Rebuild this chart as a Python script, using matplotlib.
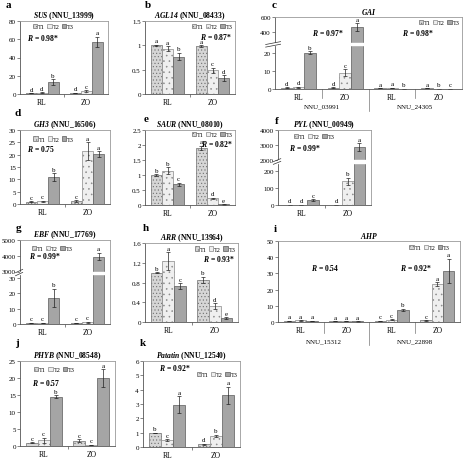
import numpy as np
import matplotlib
matplotlib.use("Agg")
import matplotlib.pyplot as plt
from matplotlib.ticker import FormatStrFormatter

plt.rcParams['font.family'] = 'Liberation Serif'
plt.rcParams['mathtext.fontset'] = 'custom'
plt.rcParams['mathtext.rm'] = 'Liberation Serif'
plt.rcParams['mathtext.it'] = 'Liberation Serif:italic'
plt.rcParams['mathtext.bf'] = 'Liberation Serif:bold'
plt.rcParams['mathtext.bfit'] = 'Liberation Serif:italic:bold'
plt.rcParams['hatch.linewidth'] = 0.4

# values ordered RL T1,T2,T3, ZO T1,T2,T3 (and repeated per gene for c, i)
treatments = ['T1', 'T2', 'T3']
groups = ['RL', 'ZO']

sus_mean = [0.8, 1.5, 13, 1.2, 3.5, 57]
sus_err = [0.2, 0.3, 3, 0.3, 1, 6]
sus_let = ['d', 'd', 'b', 'd', 'c', 'a']

agl_mean = [1.0, 0.93, 0.77, 0.98, 0.49, 0.33]
agl_err = [0.01, 0.05, 0.08, 0.02, 0.05, 0.06]
agl_let = ['a', 'a', 'b', 'a', 'c', 'd']

gai_mean = [0.8, 1.0, 20, 0.8, 9, 470, 0.5, 0.7, 0.1, 0.5, 0.2, 0.1]
gai_err = [0.1, 0.2, 0.8, 0.1, 2, 50, 0.1, 0.1, 0.05, 0.1, 0.05, 0.05]
gai_let = ['d', 'd', 'b', 'd', 'c', 'a', 'a', 'a', 'b', 'a', 'b', 'c']
gai_genes = ['NNU_03991', 'NNU_24305']

gh3_mean = [1.0, 1.2, 11, 1.2, 21.5, 20.3]
gh3_err = [0.1, 0.2, 1.5, 0.3, 3.5, 1.2]
gh3_let = ['c', 'c', 'b', 'c', 'a', 'a']

saur_mean = [1.0, 1.15, 0.7, 1.9, 0.22, 0.02]
saur_err = [0.02, 0.12, 0.05, 0.08, 0.02, 0.01]
saur_let = ['b', 'b', 'c', 'a', 'd', 'e']

pyl_mean = [0.8, 1.0, 30, 1.0, 140, 2900]
pyl_err = [0.1, 0.1, 4, 0.1, 20, 250]
pyl_let = ['d', 'd', 'c', 'd', 'b', 'a']

ebf_mean = [0.7, 0.8, 17, 0.8, 1.2, 3950]
ebf_err = [0.1, 0.1, 6, 0.1, 0.3, 250]
ebf_let = ['c', 'c', 'b', 'c', 'c', 'a']

arr_mean = [1.0, 1.23, 0.73, 0.85, 0.32, 0.08]
arr_err = [0.01, 0.18, 0.06, 0.07, 0.06, 0.02]
arr_let = ['b', 'a', 'c', 'b', 'd', 'e']

ahp_mean = [0.8, 1.0, 0.6, 0.5, 0.5, 0.4, 0.8, 1.5, 7.5, 1.0, 23.5, 31.5]
ahp_err = [0.1, 0.2, 0.1, 0.1, 0.1, 0.1, 0.1, 0.2, 0.8, 0.2, 1, 7.5]
ahp_let = ['a', 'a', 'a', 'a', 'a', 'a', 'c', 'c', 'b', 'c', 'a', 'a']
ahp_genes = ['NNU_15312', 'NNU_22898']

phyb_mean = [1.0, 1.7, 14.5, 1.6, 0.3, 20.0]
phyb_err = [0.1, 0.8, 0.4, 0.4, 0.1, 2.6]
phyb_let = ['c', 'c', 'b', 'c', 'c', 'a']

pat_mean = [1.0, 0.5, 2.95, 0.2, 0.77, 3.6]
pat_err = [0.01, 0.05, 0.6, 0.03, 0.08, 0.6]
pat_let = ['b', 'c', 'a', 'd', 'b', 'a']

W, H = 463, 460
fig = plt.figure(figsize=(W / 100, H / 100), dpi=100)

bar_w = 0.25
styles = [
    dict(facecolor='#d6d6d6', edgecolor='#6e6e6e', hatch='.....'),
    dict(facecolor='#efefef', edgecolor='#8a8a8a', hatch='...'),
    dict(facecolor='#a5a5a5', edgecolor='#5a5a5a'),
]


def add_box(l, t, r, b):
    return fig.add_axes([l / W, 1 - b / H, (r - l) / W, (b - t) / H])


def piecewise(ys, fs):
    ys = np.array(ys, float)
    fs = np.array(fs, float)

    def make(a, b):
        def f(v):
            v = np.asarray(v, float)
            out = np.interp(v, a, b)
            out = np.where(v < a[0], b[0] + (v - a[0]) * (b[1] - b[0]) / (a[1] - a[0]), out)
            out = np.where(v > a[-1], b[-1] + (v - a[-1]) * (b[-1] - b[-2]) / (a[-1] - a[-2]), out)
            return out
        return f
    return make(ys, fs), make(fs, ys)


def draw(ax, means, errs, lets):
    ncat = len(means) // 3
    x = np.arange(ncat)
    handles = []
    for t in range(3):
        vals = np.array(means[t::3])
        e = np.array(errs[t::3])
        pos = x + (t - 1) * bar_w
        h = ax.bar(pos, vals, bar_w, yerr=e, linewidth=0.5, zorder=2,
                   error_kw=dict(elinewidth=0.5, capsize=1.2, capthick=0.5, ecolor='#222222'),
                   **styles[t])
        handles.append(h)
        for p, v, ee, s in zip(pos, vals, e, lets[t::3]):
            ax.annotate(s, (p, v + ee), xytext=(0, 1), textcoords='offset points',
                        ha='center', va='bottom', fontsize=5)
    return handles


def style_axes(ax, ylim, yticks, xlabels):
    ax.set_xlim(-0.5, len(xlabels) - 0.5)
    ax.set_ylim(*ylim)
    ax.set_yticks(yticks)
    ax.yaxis.set_major_formatter(FormatStrFormatter('%g'))
    ax.set_xticks(range(len(xlabels)), xlabels)
    ax.tick_params(axis='y', labelsize=5, length=2, width=0.5, pad=1, color='#555555')
    ax.tick_params(axis='x', labelsize=5.5, length=0, pad=3)
    for s in ax.spines.values():
        s.set_linewidth(0.6)
        s.set_color('#9a9a9a')
    ax.spines['left'].set_color('#555555')
    ax.spines['bottom'].set_color('#555555')
    if len(xlabels) == 2:
        ax.set_xticks([0.5], minor=True)
        ax.tick_params(axis='x', which='minor', length=2, width=0.5, color='#555555')


def add_legend(ax, handles, loc, anchor):
    ax.legend(handles, treatments, ncol=3, loc=loc, bbox_to_anchor=anchor, fontsize=4.5,
              frameon=False, handlelength=0.7, handleheight=0.7, handletextpad=0.15,
              columnspacing=0.35, borderaxespad=0.2, borderpad=0.2)


def add_r(ax, x, y, val, ha='left'):
    ax.text(x, y, r'$\mathbfit{R}$ = ' + val, transform=ax.transAxes, ha=ha, va='center',
            fontsize=5.5, fontweight='bold')


def add_break(ax, b0, b1):
    ax.axhspan(b0, b1, color='white', zorder=3)
    fb = ax.transAxes.inverted().transform(ax.transData.transform((0, (b0 + b1) / 2)))[1]
    for dy in (-0.018, 0.018):
        ax.plot([-0.05, 0.03], [fb + dy - 0.02, fb + dy + 0.02], transform=ax.transAxes,
                color='#333333', lw=0.5, clip_on=False, zorder=4)


def gene_labels(ax, genes, long_frac, gene_y):
    tr = ax.get_xaxis_transform()
    for xs in (0.5, 2.5):
        ax.plot([xs, xs], [0, -0.13], transform=tr, color='#777777', lw=0.5, clip_on=False)
    ax.plot([1.5, 1.5], [0, long_frac], transform=tr, color='#777777', lw=0.5, clip_on=False)
    for xs, g in zip((0.5, 2.5), genes):
        ax.text(xs, gene_y, g, transform=tr, ha='center', va='center', fontsize=5)


def title(ax, gene, nnu=None):
    s = r'$\mathbfit{' + gene + '}$'
    if nnu:
        s += ' (' + nnu + ')'
    ax.set_title(s, fontsize=5.5, pad=2, fontweight='bold')


# a
ax = add_box(20, 22, 108, 95)
hs = draw(ax, sus_mean, sus_err, sus_let)
style_axes(ax, (0, 80), [0, 20, 40, 60, 80], groups)
title(ax, 'SUS', 'NNU_13999')
add_legend(ax, hs, 'upper left', (0.12, 1.0))
add_r(ax, 0.08, 0.78, '0.98*')

# b
ax = add_box(145, 22, 235, 95)
hs = draw(ax, agl_mean, agl_err, agl_let)
style_axes(ax, (0, 1.5), [0, 0.5, 1, 1.5], groups)
title(ax, 'AGL14', 'NNU_08433')
add_legend(ax, hs, 'upper right', (1.0, 1.0))
add_r(ax, 0.97, 0.80, '0.87*', ha='right')

# c
ax = add_box(275, 18, 462, 90)
fwd, inv = piecewise([0, 24, 260, 600], [0, 0.605, 0.635, 1.0])
ax.set_yscale('function', functions=(fwd, inv))
hs = draw(ax, gai_mean, gai_err, gai_let)
style_axes(ax, (0, 600), [0, 10, 20, 400, 600], groups * 2)
add_break(ax, 24, 260)
title(ax, 'GAI')
add_legend(ax, hs, 'upper right', (1.0, 1.0))
add_r(ax, 0.2, 0.79, '0.97*')
add_r(ax, 0.68, 0.79, '0.98*')
gene_labels(ax, gai_genes, -0.3, -0.24)

# d
ax = add_box(20, 131, 110, 205)
hs = draw(ax, gh3_mean, gh3_err, gh3_let)
style_axes(ax, (0, 30), [0, 5, 10, 15, 20, 25, 30], groups)
title(ax, 'GH3', 'NNU_16506')
add_legend(ax, hs, 'upper left', (0.12, 0.95))
add_r(ax, 0.08, 0.76, '0.75')

# e
ax = add_box(145, 131, 235, 206)
hs = draw(ax, saur_mean, saur_err, saur_let)
style_axes(ax, (0, 2.5), [0, 0.5, 1, 1.5, 2, 2.5], groups)
title(ax, 'SAUR', 'NNU_08010')
add_legend(ax, hs, 'upper right', (1.0, 1.01))
add_r(ax, 0.98, 0.83, '0.82*', ha='right')

# f
ax = add_box(278, 131, 371, 206)
fwd, inv = piecewise([0, 250, 2000, 4000], [0, 0.565, 0.595, 1.0])
ax.set_yscale('function', functions=(fwd, inv))
hs = draw(ax, pyl_mean, pyl_err, pyl_let)
style_axes(ax, (0, 4000), [0, 100, 200, 2000, 3000, 4000], groups)
add_break(ax, 250, 2000)
title(ax, 'PYL', 'NNU_00949')
add_legend(ax, hs, 'upper left', (0.14, 0.98))
add_r(ax, 0.12, 0.77, '0.99*')

# g
ax = add_box(20, 241, 110, 325)
fwd, inv = piecewise([0, 33, 3000, 5000], [0, 0.6, 0.625, 1.0])
ax.set_yscale('function', functions=(fwd, inv))
hs = draw(ax, ebf_mean, ebf_err, ebf_let)
style_axes(ax, (0, 5000), [0, 10, 20, 30, 3000, 4000, 5000], groups)
add_break(ax, 33, 3000)
title(ax, 'EBF', 'NNU_17769')
add_legend(ax, hs, 'upper left', (0.1, 0.96))
add_r(ax, 0.1, 0.82, '0.99*')

# h
ax = add_box(145, 244, 238, 323)
hs = draw(ax, arr_mean, arr_err, arr_let)
style_axes(ax, (0, 1.6), [0, 0.4, 0.8, 1.2, 1.6], groups)
title(ax, 'ARR', 'NNU_13964')
add_legend(ax, hs, 'upper right', (1.0, 0.99))
add_r(ax, 0.97, 0.81, '0.93*', ha='right')

# i
ax = add_box(278, 242, 460, 323)
hs = draw(ax, ahp_mean, ahp_err, ahp_let)
style_axes(ax, (0, 50), [0, 10, 20, 30, 40, 50], groups * 2)
title(ax, 'AHP')
add_legend(ax, hs, 'upper right', (0.96, 0.98))
add_r(ax, 0.18, 0.68, '0.54')
add_r(ax, 0.67, 0.68, '0.92*')
gene_labels(ax, ahp_genes, -0.28, -0.235)

# j
ax = add_box(20, 362, 115, 447)
hs = draw(ax, phyb_mean, phyb_err, phyb_let)
style_axes(ax, (0, 25), [0, 5, 10, 15, 20, 25], groups)
title(ax, 'PHYB', 'NNU_08548')
add_legend(ax, hs, 'upper left', (0.12, 0.96))
add_r(ax, 0.13, 0.75, '0.57')

# k
ax = add_box(143, 362, 240, 448)
hs = draw(ax, pat_mean, pat_err, pat_let)
style_axes(ax, (0, 6), [0, 1, 2, 3, 4, 5, 6], groups)
title(ax, 'Patatin', 'NNU_12540')
add_legend(ax, hs, 'upper right', (1.0, 0.9))
add_r(ax, 0.17, 0.93, '0.92*')

panel_labels = ['a', 'b', 'c', 'd', 'e', 'f', 'g', 'h', 'i', 'j', 'k']
label_pos = [(8, 6), (148, 6), (274, 6), (18, 114), (146, 120), (277, 122),
             (19, 229), (146, 229), (275, 230), (17, 344), (143, 344)]
for s, (px, py) in zip(panel_labels, label_pos):
    fig.text(px / W, 1 - py / H, s, ha='center', va='center', fontsize=8, fontweight='bold')

fig.savefig('out.png', dpi=100)
